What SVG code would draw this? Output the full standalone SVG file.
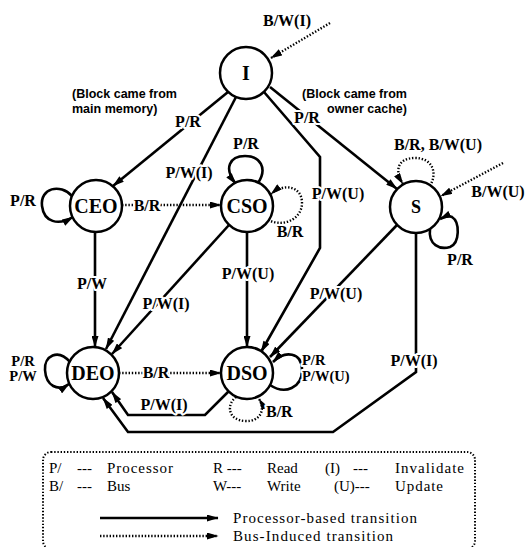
<svg xmlns="http://www.w3.org/2000/svg" width="530" height="547" viewBox="0 0 530 547">
<style>
.bg{fill:#fff}
.node circle{fill:#fff;stroke:#000;stroke-width:2.5}
.node text{font-family:"Liberation Serif",serif;font-weight:bold;font-size:20px;text-anchor:middle;fill:#000}
.e{fill:none;stroke:#000;stroke-width:2.6;stroke-linejoin:miter}
.d{fill:none;stroke:#000;stroke-width:2.4;stroke-dasharray:1.4 1.8}
.lbl{font-family:"Liberation Serif",serif;font-weight:bold;font-size:16px;fill:#000;text-anchor:middle;paint-order:stroke;stroke:#fff;stroke-width:4px;stroke-linejoin:round}
.sm{font-size:14.5px}
.st{text-anchor:start}
.note{font-family:"Liberation Sans",Arial,sans-serif;font-weight:bold;font-size:12.5px;fill:#000}
.leg{font-family:"Liberation Serif",serif;font-size:15px;fill:#000}
</style>
<defs>
<marker id="ah" viewBox="0 0 10 6" refX="9.5" refY="3" markerWidth="12" markerHeight="7" orient="auto" markerUnits="userSpaceOnUse">
<path d="M0,0 L10,3 L0,6 z" fill="#000"/>
</marker>
</defs>
<rect class="bg" x="0" y="0" width="530" height="547"/>

<g id="connectors">
<!-- I -> CEO -->
<path class="e" d="M228,92 L113,186" marker-end="url(#ah)"/>
<text class="lbl" x="188" y="127">P/R</text>
<!-- I -> DEO -->
<path class="e" d="M236,97 L106,349" marker-end="url(#ah)"/>
<text class="lbl" x="189" y="178">P/W(I)</text>
<!-- I -> DSO -->
<path class="e" d="M264,92 L320,157 L320,248 L261,352" marker-end="url(#ah)"/>
<text class="lbl" x="338" y="199">P/W(U)</text>
<!-- I -> S -->
<path class="e" d="M270,87 L397,189" marker-end="url(#ah)"/>
<text class="lbl" x="307" y="123">P/R</text>
<!-- external bus -> I -->
<path class="d" d="M330,23 L271,58" marker-end="url(#ah)"/>
<text class="lbl" x="287" y="26">B/W(I)</text>
<!-- CEO self loop -->
<path class="e" d="M72,196 C60,183 40,188 42,206 C44,222 58,226 73,217" marker-end="url(#ah)"/>
<text class="lbl" x="23" y="206">P/R</text>
<!-- CEO -> CSO -->
<path class="d" d="M122,205 L221,205" marker-end="url(#ah)"/>
<text class="lbl" x="147" y="211">B/R</text>
<!-- CSO self loop P/R -->
<path class="e" d="M258,183 C268,168 260,156 245,156 C230,156 223,168 236,184" marker-end="url(#ah)"/>
<text class="lbl" x="246" y="149">P/R</text>
<!-- CSO self loop B/R -->
<path class="d" d="M268,220 C285,228 302,218 302,203 C302,187 285,182 271,194" marker-end="url(#ah)"/>
<text class="lbl" x="290" y="237">B/R</text>
<!-- CEO -> DEO -->
<path class="e" d="M95,232 L95,347" marker-end="url(#ah)"/>
<text class="lbl" x="92" y="289">P/W</text>
<!-- CSO -> DEO -->
<path class="e" d="M229,225 L112,354" marker-end="url(#ah)"/>
<text class="lbl" x="166" y="309">P/W(I)</text>
<!-- CSO -> DSO -->
<path class="e" d="M247,232 L247,347" marker-end="url(#ah)"/>
<text class="lbl" x="248" y="279">P/W(U)</text>
<!-- S -> DSO -->
<path class="e" d="M397,225 L270,357" marker-end="url(#ah)"/>
<text class="lbl" x="336" y="299">P/W(U)</text>
<!-- S self loop P/R -->
<path class="e" d="M430,229 C428,245 440,250 450,247 C460,243 460,222 452,217 C448,215 444,217 440,219" marker-end="url(#ah)"/>
<text class="lbl" x="460" y="265">P/R</text>
<!-- S self loop bus -->
<path class="d" d="M430,186 C438,172 432,158 415,158 C398,158 394,170 403,184" marker-end="url(#ah)"/>
<text class="lbl" x="438" y="150">B/R, B/W(U)</text>
<!-- external bus -> S -->
<path class="d" d="M503,163 L441,196" marker-end="url(#ah)"/>
<text class="lbl" x="498" y="197">B/W(U)</text>
<!-- DEO self loop -->
<path class="e" d="M70,362 C58,348 44,356 45,370 C46,386 58,392 69,384" marker-end="url(#ah)"/>
<text class="lbl sm" x="23" y="366">P/R</text>
<text class="lbl sm" x="23" y="381">P/W</text>
<!-- DEO -> DSO -->
<path class="d" d="M119,373 L221,373" marker-end="url(#ah)"/>
<text class="lbl" x="156" y="378">B/R</text>
<!-- DSO -> DEO -->
<path class="e" d="M229,391 L205,415 L128,415 L112,392" marker-end="url(#ah)"/>
<text class="lbl" x="164" y="410">P/W(I)</text>
<!-- S -> DEO -->
<path class="e" d="M416,233 L416,372 L333,432 L128,432 L103,398" marker-end="url(#ah)"/>
<text class="lbl" x="414" y="366">P/W(I)</text>
<!-- DSO self loop P/R P/W(U) -->
<path class="e" d="M270,385 C285,395 302,388 302,370 C302,352 285,350 273,362" marker-end="url(#ah)"/>
<text class="lbl sm st" x="302" y="365">P/R</text>
<text class="lbl sm st" x="302" y="381">P/W(U)</text>
<!-- DSO self loop B/R -->
<path class="d" d="M236,397 C226,405 228,420 245,421 C260,422 266,410 259,399" marker-end="url(#ah)"/>
<text class="lbl st" x="266" y="417">B/R</text>
</g>

<g id="node-I" class="node"><circle cx="246" cy="73" r="26"/><text x="246" y="80">I</text></g>
<g id="node-CEO" class="node"><circle cx="96" cy="206" r="26"/><text x="96" y="213">CEO</text></g>
<g id="node-CSO" class="node"><circle cx="247" cy="206" r="26"/><text x="247" y="213">CSO</text></g>
<g id="node-S" class="node"><circle cx="416" cy="207" r="26"/><text x="416" y="213" style="font-size:18px">S</text></g>
<g id="node-DEO" class="node"><circle cx="93" cy="373" r="26"/><text x="93" y="380">DEO</text></g>
<g id="node-DSO" class="node"><circle cx="247" cy="373" r="26"/><text x="247" y="380">DSO</text></g>

<g id="notes">
<text class="note" x="72" y="98">(Block came from</text>
<text class="note" x="72" y="113">main memory)</text>
<text class="note" x="302" y="98">(Block came from</text>
<text class="note" x="327" y="113">owner cache)</text>
</g>

<g id="legend">
<rect x="43" y="452" width="432" height="97" rx="8" fill="none" stroke="#000" stroke-width="2" stroke-dasharray="1.4 1.8"/>
<text class="leg" x="49" y="473">P/</text>
<text class="leg" x="77" y="473">---</text>
<text class="leg" x="107" y="473" textLength="66" lengthAdjust="spacing">Processor</text>
<text class="leg" x="213" y="473">R ---</text>
<text class="leg" x="267" y="473">Read</text>
<text class="leg" x="325" y="473">(I)</text>
<text class="leg" x="353" y="473">---</text>
<text class="leg" x="395" y="473" textLength="69" lengthAdjust="spacing">Invalidate</text>
<text class="leg" x="49" y="491">B/</text>
<text class="leg" x="77" y="491">---</text>
<text class="leg" x="107" y="491">Bus</text>
<text class="leg" x="213" y="491">W---</text>
<text class="leg" x="267" y="491">Write</text>
<text class="leg" x="334" y="491">(U)---</text>
<text class="leg" x="395" y="491" textLength="48" lengthAdjust="spacing">Update</text>
<path class="e" d="M100,518 L218,518" marker-end="url(#ah)"/>
<text class="leg" x="233" y="523" textLength="184" lengthAdjust="spacing">Processor-based transition</text>
<path class="d" d="M100,536 L218,536" marker-end="url(#ah)"/>
<text class="leg" x="233" y="541" textLength="160" lengthAdjust="spacing">Bus-Induced transition</text>
</g>
</svg>
